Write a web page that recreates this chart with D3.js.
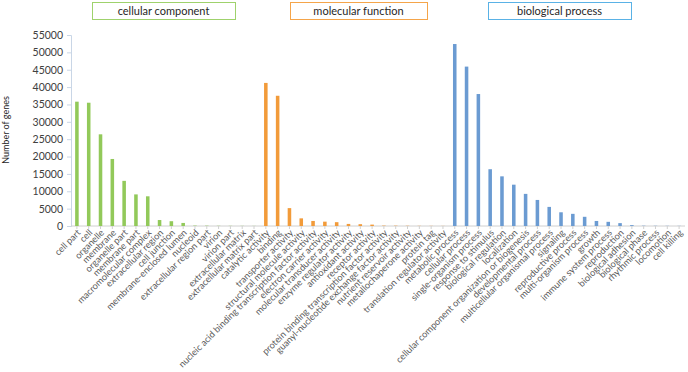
<!DOCTYPE html>
<html>
<head>
<meta charset="utf-8">
<script src="https://cdn.jsdelivr.net/npm/d3@7"></script>
<style>
  body { margin: 0; background: #fff; }
  text { font-family: Lato, "Open Sans", sans-serif; }
</style>
</head>
<body>
<div id="chart"></div>
<script>
// GO level-2 categories, in the order they appear on the x axis
const cellularComponent = ["cell part", "cell", "organelle", "membrane", "organelle part", "membrane part",
  "macromolecular complex", "extracellular region", "cell junction", "membrane-enclosed lumen", "nucleoid",
  "extracellular region part", "virion", "virion part", "extracellular matrix", "extracellular matrix part"];
const ccValues = [35800, 35500, 26400, 19300, 13000, 9100, 8550, 1720, 1380, 880, 110, 90, 60, 50, 40, 30];

const molecularFunction = ["catalytic activity", "binding", "transporter activity", "structural molecule activity",
  "nucleic acid binding transcription factor activity", "electron carrier activity", "molecular transducer activity",
  "enzyme regulator activity", "antioxidant activity", "receptor activity",
  "protein binding transcription factor activity", "guanyl-nucleotide exchange factor activity",
  "nutrient reservoir activity", "metallochaperone activity", "protein tag", "translation regulator activity"];
const mfValues = [41200, 37500, 5150, 2200, 1450, 1250, 1100, 600, 520, 400, 110, 90, 70, 50, 40, 30];

const biologicalProcess = ["metabolic process", "cellular process", "single-organism process", "response to stimulus",
  "biological regulation", "localization", "cellular component organization or biogenesis", "developmental process",
  "multicellular organismal process", "signaling", "reproductive process", "multi-organism process", "growth",
  "immune system process", "reproduction", "biological adhesion", "biological phase", "rhythmic process",
  "locomotion", "cell killing"];
const bpValues = [52400, 45900, 38000, 16350, 14300, 11900, 9250, 7500, 5500, 3950, 3500, 2650, 1450, 1200, 830, 250, 80, 60, 50, 40];

const yTicks = d3.range(0, 55001, 5000);

const groups = [
  {name: "cellular component", cats: cellularComponent, vals: ccValues, fill: "#92c95a", stroke: "#9fd26c"},
  {name: "molecular function", cats: molecularFunction, vals: mfValues, fill: "#f29b3a", stroke: "#f5a54a"},
  {name: "biological process", cats: biologicalProcess, vals: bpValues, fill: "#6b9bd2", stroke: "#5ab2e6"}
];

// flatten into one table for the band scale
let data = [];
groups.forEach(g => g.cats.forEach((c, i) => data.push({cat: c, value: g.vals[i], group: g})));

const width = 688, height = 372;
const svg = d3.select("#chart").append("svg")
  .attr("width", width)
  .attr("height", height);

let x = d3.scaleBand()
  .domain(data.map(d => d.cat))
  .range([71, 685])
  .paddingInner(0.7)
  .paddingOuter(0.35);

let y = d3.scaleLinear()
  .domain([0, 55000])
  .range([226, 35]);

// y axis
let yAxis = svg.append("g")
  .attr("transform", "translate(71,0)")
  .call(d3.axisLeft(y).tickValues(yTicks).tickSize(4).tickPadding(4).tickFormat(d3.format("d")));
yAxis.select(".domain").attr("stroke", "#c9d6e6");
yAxis.selectAll(".tick line").attr("stroke", "#c9d6e6");
yAxis.selectAll("text").attr("fill", "#404040").style("font-size", "10.5px");

// x axis baseline with small ticks under each category
svg.append("line")
  .attr("x1", 71).attr("x2", 685)
  .attr("y1", y(0)).attr("y2", y(0))
  .attr("stroke", "#d0d0d0");
svg.append("g").selectAll("line")
  .data(data)
  .enter().append("line")
  .attr("x1", d => x(d.cat) + x.bandwidth() / 2)
  .attr("x2", d => x(d.cat) + x.bandwidth() / 2)
  .attr("y1", y(0)).attr("y2", y(0) + 3)
  .attr("stroke", "#d0d0d0");

// bars
svg.append("g").selectAll("rect")
  .data(data)
  .enter().append("rect")
  .attr("x", d => x(d.cat))
  .attr("y", d => y(d.value))
  .attr("width", x.bandwidth())
  .attr("height", d => y(0) - y(d.value))
  .attr("fill", d => d.group.fill);

// rotated category labels
svg.append("g").selectAll("text")
  .data(data)
  .enter().append("text")
  .attr("transform", d => "translate(" + (x(d.cat) + x.bandwidth() / 2 + 2) + "," + (y(0) + 5) + ") rotate(-45)")
  .attr("text-anchor", "end")
  .attr("dy", "0.35em")
  .attr("fill", "#595959")
  .style("font-size", "9.2px")
  .text(d => d.cat);

// y title
svg.append("text")
  .attr("transform", "translate(9,130) rotate(-90)")
  .attr("text-anchor", "middle")
  .attr("fill", "#262626")
  .style("font-size", "9px")
  .text("Number of genes");

// group header boxes
const boxes = [[92, 235], [290, 427], [488, 631]];
groups.forEach((g, i) => {
  svg.append("rect")
    .attr("x", boxes[i][0] + 0.5).attr("y", 2.5)
    .attr("width", boxes[i][1] - boxes[i][0]).attr("height", 17)
    .attr("fill", "#fff")
    .attr("stroke", g.stroke);
  svg.append("text")
    .attr("x", (boxes[i][0] + boxes[i][1]) / 2)
    .attr("y", 11)
    .attr("dy", "0.35em")
    .attr("text-anchor", "middle")
    .attr("fill", "#262626")
    .style("font-size", "11px")
    .text(g.name);
});
</script>
</body>
</html>
